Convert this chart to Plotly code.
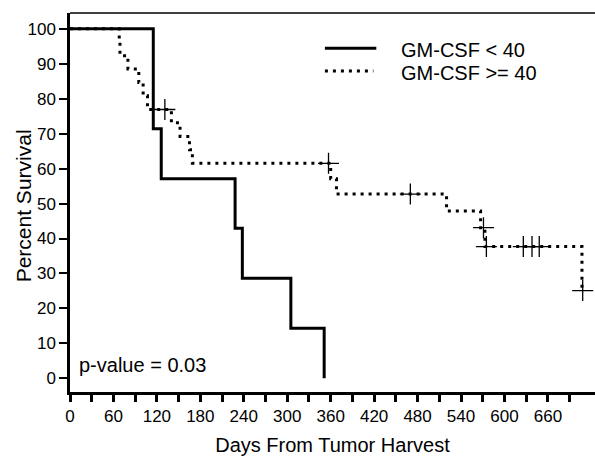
import plotly.graph_objects as go

# ---- data ----
low_days = [0, 115, 126, 228, 238, 305, 351]
low_surv = [100, 71.4, 57.1, 42.9, 28.6, 14.3, 0]

high_days = [0, 68, 69, 80, 95, 101, 107, 140, 152, 165, 169, 360, 368, 520, 567, 573, 707]
high_surv = [100, 96.2, 92.3, 88.5, 84.6, 80.8, 76.9, 73.1, 69.2, 65.4, 61.5, 57.1, 52.7, 47.9, 43.1, 37.7, 25.1]

high_cens_days = [131, 357, 470, 571, 575, 626, 638, 648, 708]
high_cens_surv = [76.9, 61.5, 52.7, 43.1, 37.7, 37.7, 37.7, 37.7, 25.1]

x_tick_vals = list(range(0, 691, 30))
x_tick_text = [str(v) if v % 60 == 0 else "" for v in x_tick_vals]
y_tick_vals = list(range(0, 101, 10))

series_names = ["GM-CSF < 40", "GM-CSF >= 40"]
p_text = "p-value = 0.03"
x_title = "Days From Tumor Harvest"
y_title = "Percent Survival"

FONT = "Arial, Liberation Sans, sans-serif"
DOT = "3px,5px"

fig = go.Figure()
fig.add_trace(go.Scatter(x=low_days, y=low_surv, mode="lines", line_shape="hv",
                         line=dict(color="black", width=3), name=series_names[0],
                         showlegend=False))
fig.add_trace(go.Scatter(x=high_days, y=high_surv, mode="lines", line_shape="hv",
                         line=dict(color="black", width=3, dash=DOT), name=series_names[1],
                         showlegend=False))
fig.add_trace(go.Scatter(x=high_cens_days, y=high_cens_surv, mode="markers",
                         marker=dict(symbol="cross-thin", size=15,
                                     line=dict(color="black", width=1.3)),
                         showlegend=False, hoverinfo="skip", cliponaxis=False))

# manual legend (line samples + labels)
fig.add_shape(type="line", x0=352, x1=423, y0=94.4, y1=94.4,
              line=dict(color="black", width=3))
fig.add_shape(type="line", x0=352, x1=419, y0=87.9, y1=87.9,
              line=dict(color="black", width=3, dash=DOT))
fig.add_annotation(x=455, y=94.0, text=series_names[0], showarrow=False,
                   xanchor="left", yanchor="middle", font=dict(size=20, color="black", family=FONT))
fig.add_annotation(x=455, y=87.2, text=series_names[1], showarrow=False,
                   xanchor="left", yanchor="middle", font=dict(size=20, color="black", family=FONT))
fig.add_annotation(x=9.5, y=3.8, text=p_text, showarrow=False,
                   xanchor="left", yanchor="middle", font=dict(size=20, color="black", family=FONT))

# y-axis title placed as rotated text
fig.add_annotation(xref="paper", yref="paper", x=-0.088, y=0.492, text=y_title,
                   textangle=-90, showarrow=False, xanchor="center", yanchor="middle",
                   font=dict(size=21, color="black", family=FONT))

# top frame line
fig.add_shape(type="line", xref="paper", yref="paper", x0=0, x1=1, y0=1, y1=1,
              line=dict(color="black", width=1.5))

fig.update_layout(
    width=595, height=456,
    margin=dict(l=70, r=0, t=13, b=64),
    paper_bgcolor="white", plot_bgcolor="white",
    font=dict(family=FONT, size=18, color="black"),
    xaxis=dict(range=[0, 725], tickvals=x_tick_vals, ticktext=x_tick_text,
               ticks="outside", ticklen=7, tickwidth=2.5, tickcolor="black",
               showline=True, linewidth=3, linecolor="black",
               showgrid=False, zeroline=False, automargin=False,
               title=dict(text=x_title, font=dict(size=20), standoff=13),
               tickfont=dict(size=17)),
    yaxis=dict(range=[-3.9, 104.5], tickvals=y_tick_vals,
               ticks="outside", ticklen=8, tickwidth=2, tickcolor="black",
               showline=True, linewidth=2.5, linecolor="black",
               showgrid=False, zeroline=False, automargin=False,
               tickfont=dict(size=17)),
)

fig.write_html("out.html", config={"displayModeBar": False},
               post_script="document.body.style.margin='0';document.body.style.padding='0';")
